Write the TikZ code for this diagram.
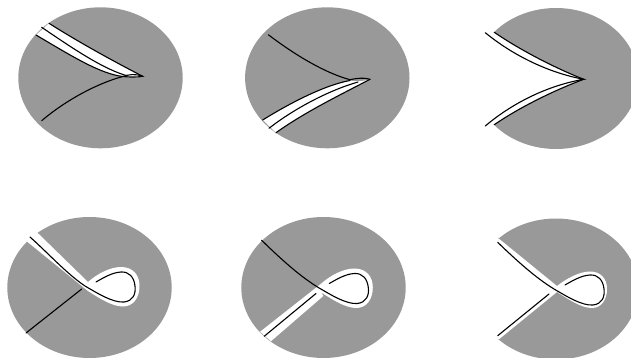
\documentclass[tikz,border=0pt]{standalone}
\usepackage{tikz}
\tikzset{
  disc/.style={fill=sheetgray},
  cutout/.style={fill=white},
  strand/.style={draw=black,line width=0.55pt,line cap=round},
}
\definecolor{sheetgray}{gray}{0.6}
% loop of the nodal curve, measured from the crossing point
\newcommand{\loopstrand}{(0,0) .. controls (12,7) and (28,17) .. (39,16) .. controls (48,15) and (51,8) .. (50,0) .. controls (49,-9) and (44,-14.5) .. (36,-14) .. controls (27,-13.5) and (18,-8) .. (11,-4)}
% rim of the white collar round that loop
\newcommand{\looprim}{(3,-4) .. controls (12,-12) and (25,-19) .. (36,-19) .. controls (48,-19) and (54.5,-11) .. (54.5,0) .. controls (54.5,12) and (48,20.5) .. (38,20.5) .. controls (27,20.5) and (14,12) .. (3,5)}
% the same rim, closer to the loop
\newcommand{\looprimthin}{(3,-3) .. controls (12,-10) and (25,-17.5) .. (36,-17.5) .. controls (47,-17.5) and (53,-10) .. (53,0) .. controls (53,11) and (47,19) .. (38,19) .. controls (27,19) and (14,10) .. (3,3)}
\begin{document}
\begin{tikzpicture}[x=0.5pt,y=-0.5pt]
  \useasboundingbox (0,0) rectangle (631,358);
  \clip (0,0) rectangle (631,358);
  % sheets
  \foreach \cx/\cy in {100.5/77.8, 327.3/77.8, 556/78.5, 89.5/287.5, 323.5/287.5, 556/289}
    {
      \fill[disc] (\cx,\cy) ellipse (82.2 and 70.5);
    }
  % cusp, upper branch cut
  \fill[cutout] (49,23.3) .. controls (80,43) and (115,62) .. (142.7,76.3)
    .. controls (135,77.5) and (128,77) .. (123,76.5)
    .. controls (100,74) and (70,55) .. (36,35) -- cycle;
  \draw[strand] (49,23.3) .. controls (80,43) and (115,62) .. (142.7,76.3)
    .. controls (135,77.5) and (128,77) .. (123,76.5)
    .. controls (100,74) and (70,55) .. (36,35);
  \draw[strand] (41.7,27.3) .. controls (75,50) and (105,70) .. (128,76);
  \draw[strand] (41.7,120.7) .. controls (66,100) and (98,83) .. (123,76.5)
    .. controls (128,74.5) and (136,73.5) .. (142.7,76.3);
  % cusp, lower branch cut
  \fill[cutout] (262.7,120) .. controls (290,103) and (325,85) .. (350,80.5)
    .. controls (358,82) and (364,81) .. (370,79.3)
    .. controls (340,95) and (305,112) .. (276,132.7) -- cycle;
  \draw[strand] (262.7,120) .. controls (290,103) and (325,85) .. (350,80.5);
  \draw[strand] (370,79.3) .. controls (340,95) and (305,112) .. (276,132.7);
  \draw[strand] (269,128.3) .. controls (295,108) and (330,90) .. (358,82);
  \draw[strand] (268.3,34.7) .. controls (295,55) and (325,73) .. (350,79.7)
    .. controls (358,78) and (364,77.5) .. (370,79.3);
  % cusp, both branches cut
  \fill[cutout] (494.3,32.3) .. controls (520,50) and (555,68) .. (583.7,79.3)
    .. controls (555,90) and (520,107) .. (494.3,124.7) -- (460,124.7) -- (460,32.3) -- cycle;
  \draw[strand] (494.3,32.3) .. controls (520,50) and (555,68) .. (583.7,79.3)
    .. controls (555,90) and (520,107) .. (494.3,124.7);
  \draw[strand] (485.3,32.7) .. controls (510,53) and (545,72) .. (583.7,79.3)
    .. controls (545,86) and (510,105) .. (485.3,126);
  % node, upper branch cut
  \begin{scope}[shift={(85,286)}]
    \fill[cutout] (-48.3,-54) -- \looprim -- (-58.3,-44.7) -- cycle;
    \draw[strand] (-55,-49) .. controls (-37,-33) and (-18,-12) .. \loopstrand;
    \draw[strand] (-59,47) -- (-3.3,3);
  \end{scope}
  % node, lower branch cut
  \begin{scope}[shift={(318.3,287.5)}]
    \fill[cutout] (-58.3,44.3) -- \looprim -- (5,8.5) -- (-47.3,53.7) -- cycle;
    \draw[strand] (-56.7,-47.3) .. controls (-37,-28) and (-18,-11) .. \loopstrand;
    \draw[strand] (-54,48.7) -- (-2.3,6);
  \end{scope}
  % node, both branches cut
  \begin{scope}[shift={(554,289)}]
    \fill[cutout] (-54.7,-50) -- \looprimthin -- (-54.7,50) -- (-100,50) -- (-100,-50) -- cycle;
    \draw[strand] (-56.3,-46.7) .. controls (-37,-28) and (-18,-11) .. \loopstrand;
    \draw[strand] (-56.3,46.7) -- (-5,5);
  \end{scope}
\end{tikzpicture}
\end{document}
